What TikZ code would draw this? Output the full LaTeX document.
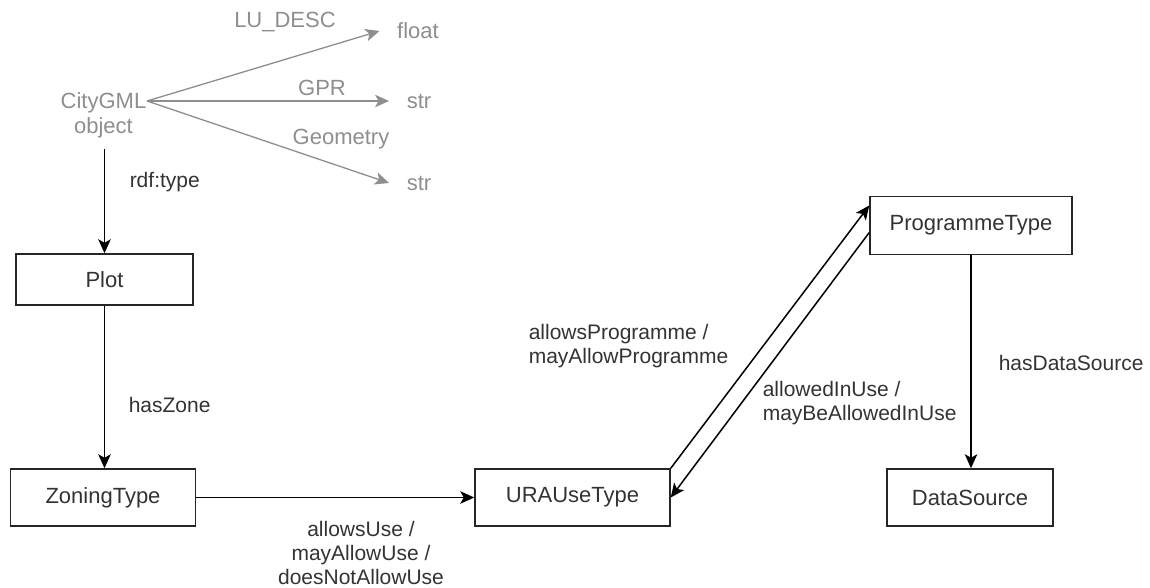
\documentclass[tikz,border=0pt]{standalone}
\usepackage{fontspec}
\setmainfont{Liberation Sans}
\usepackage{tikz}
\usetikzlibrary{positioning,arrows.meta}
\definecolor{inkgrey}{HTML}{333333}
\definecolor{litegrey}{HTML}{8E8E8E}

\begin{document}
\begin{tikzpicture}[x=1pt,y=-1pt,line width=1.5pt,
		>={Stealth[length=14pt,width=12.5pt,inset=3.5pt]},
		cls/.style={draw=black!85,text=inkgrey,inner sep=0pt,minimum height=57pt,font=\fontsize{22}{26}\selectfont},
		rel/.style={text=inkgrey,inner sep=0pt,font=\fontsize{21}{24.5}\selectfont},
		attr/.style={text=litegrey,inner sep=0pt,font=\fontsize{22}{25}\selectfont},
		val/.style={attr,inner xsep=17pt}
	]
		\useasboundingbox (0,0) rectangle (1150,588);

		% source object and its attributes
		\node[attr,align=center] (city) at (103.5,115) {CityGML\\object};
		\node[val] (fl) at (418,31) {float};
		\node[val] (s1) at (419,101) {str};
		\node[val] (s2) at (419,183) {str};
		\path[->,litegrey,line width=1.3pt]
			(city.east |- s1.west) edge (fl.west)
			(city.east |- s1.west) edge (s1.west)
			(city.east |- s1.west) edge (s2.west)
		;
		\node[attr] (lu) at (285,22) {LU\_DESC};
		\node[attr] (gpr) at (322,88) {GPR};
		\node[attr] (geo) at (341,139) {Geometry};

		% classes
		\node[cls,minimum width=177pt,minimum height=51pt] (plot) at (104.5,279.5) {Plot};
		\node[cls,minimum width=185pt] (zone) at (103,497.5) {ZoningType};
		\node[cls,minimum width=195pt] (ura) at (572.5,497.5) {URAUseType};
		\node[cls,minimum width=202pt,minimum height=58pt] (prog) at (971,225.5) {ProgrammeType};
		\node[cls,minimum width=166pt] (src) at (970,497.5) {DataSource};

		\path[->,black]
			(city.south -| plot.north) edge[shorten <=10pt] (plot.north)
			(plot.south) edge (plot.south |- zone.north)
			(zone.east) edge (ura.west)
			(ura.north east) edge ([yshift=20pt]prog.west)
			([yshift=-7pt]prog.west) edge (ura.east)
			(prog.south) edge (prog.south |- src.north)
		;

		% relation labels
		\node[rel,anchor=west] (rdf) at (129,182) {rdf:type};
		\node[rel,anchor=west] (hz) at (128,405) {hasZone};
		\node[rel,align=center,font=\fontsize{21}{24}\selectfont] (use) at (361,553) {allowsUse /\\mayAllowUse /\\doesNotAllowUse};
		\node[rel,align=left,anchor=west] (ap) at (528,346) {allowsProgramme /\\mayAllowProgramme};
		\node[rel,align=left,anchor=west] (ai) at (762,403) {allowedInUse /\\mayBeAllowedInUse};
		\node[rel,anchor=west] (hds) at (998,363) {hasDataSource};
	\end{tikzpicture}
\end{document}
